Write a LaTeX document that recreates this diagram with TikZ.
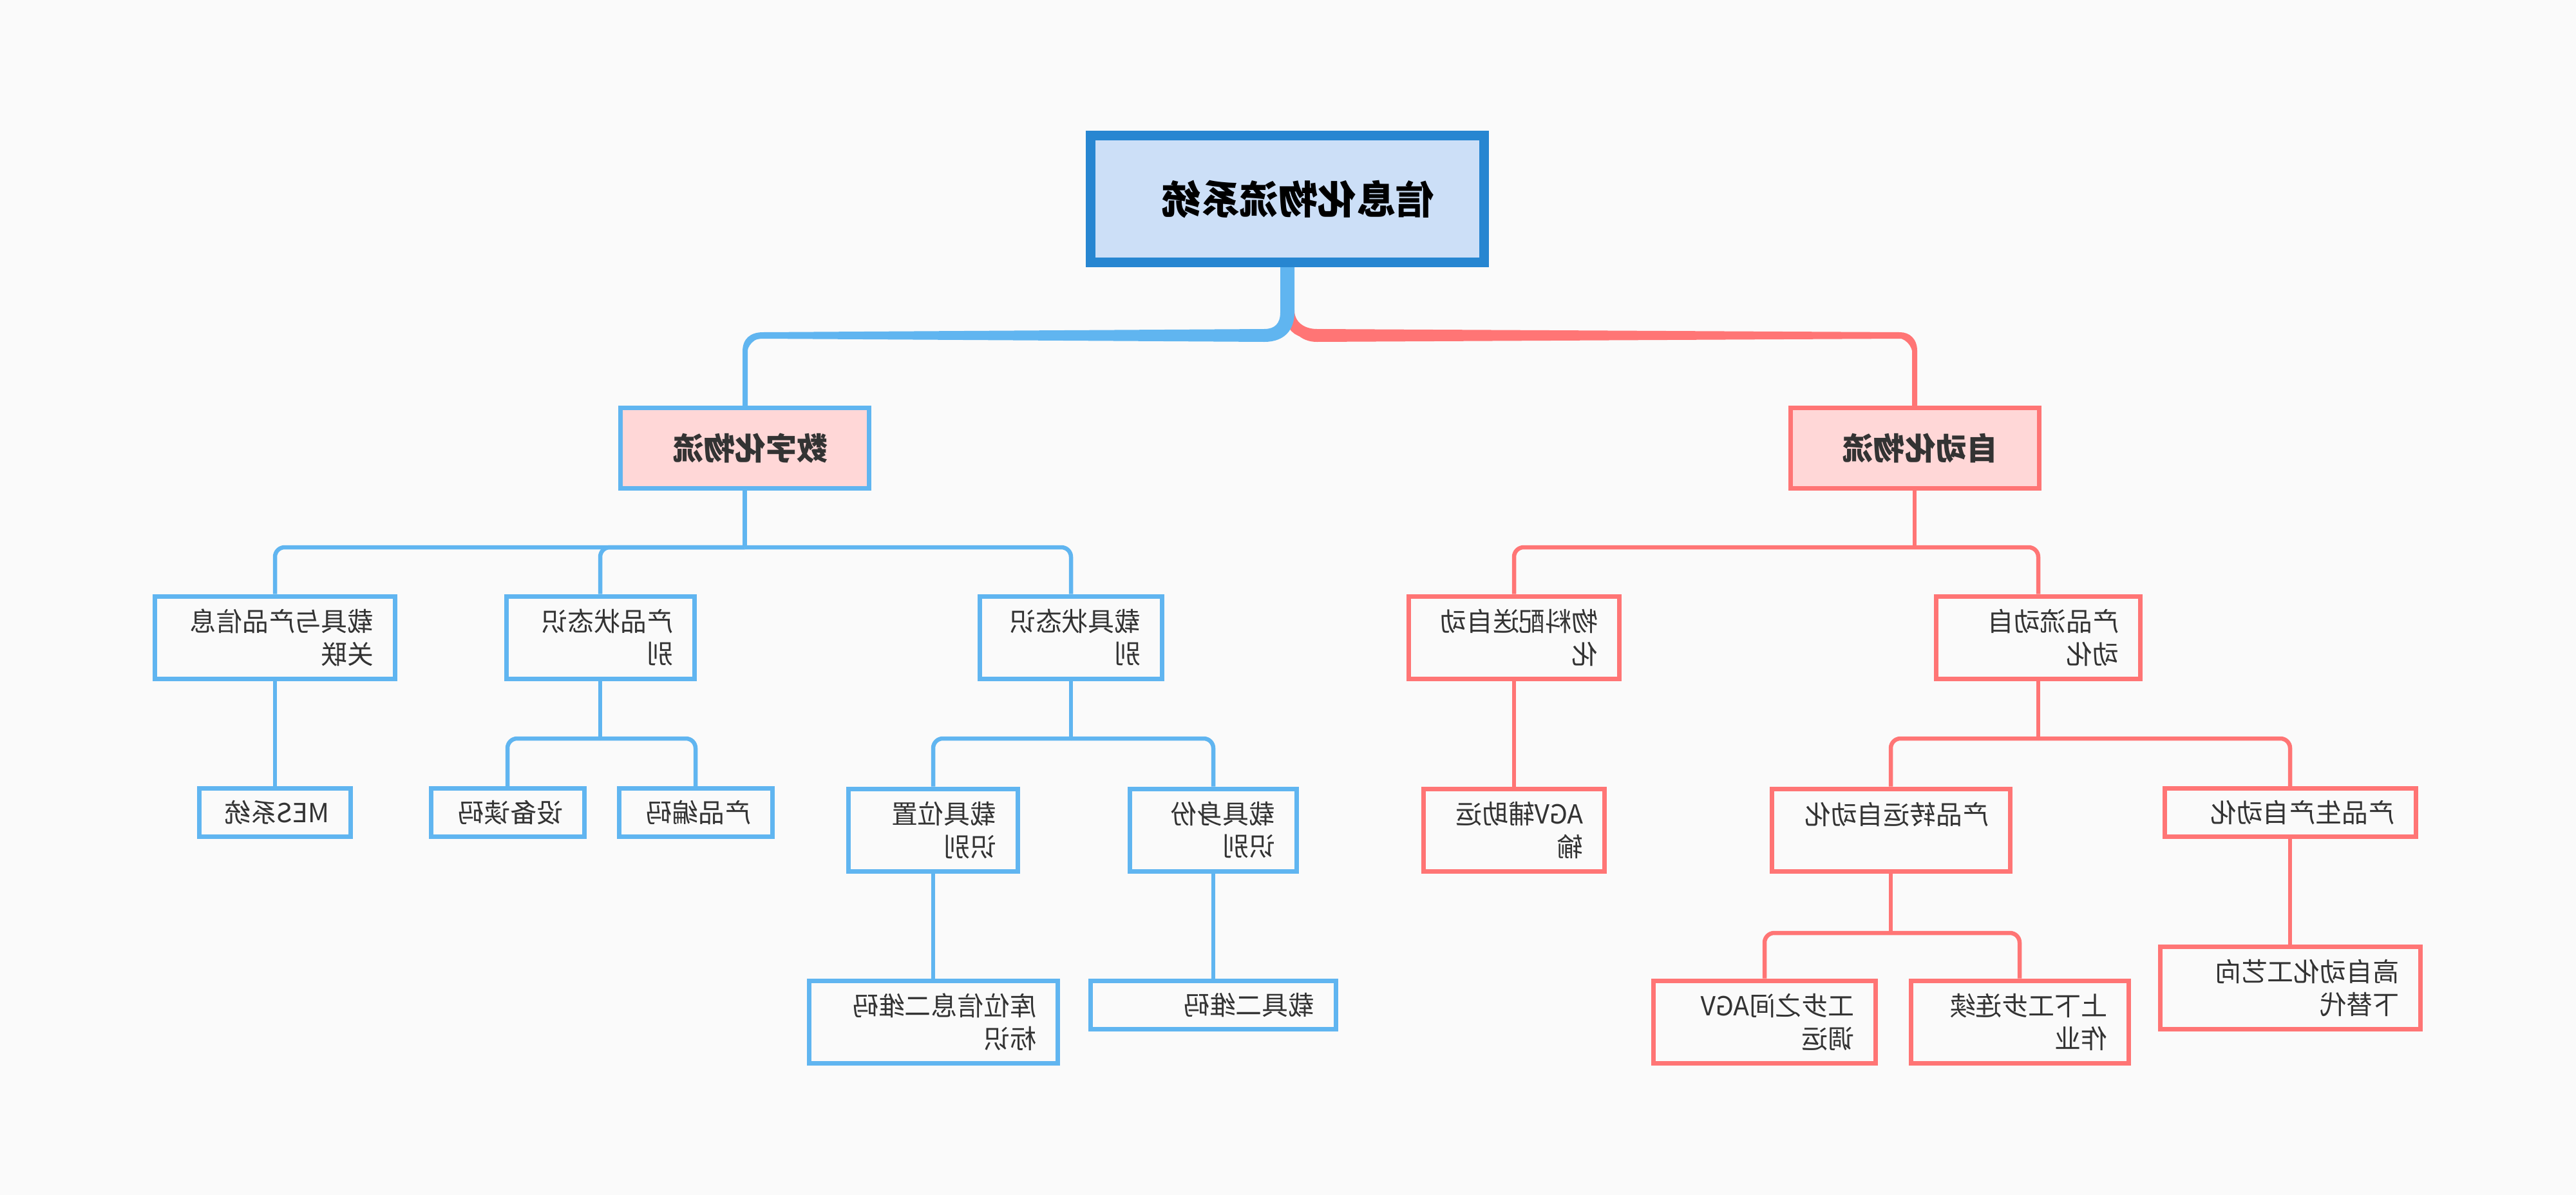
\documentclass[tikz,border=0pt]{standalone}
\usepackage{fontspec}
\setmainfont{Noto Sans CJK SC}
\usepackage{graphicx}
\usepackage{xcolor}
\usepackage{tikz}

\definecolor{paper}{HTML}{FAFAFA}
\definecolor{ink}{HTML}{333333}
\definecolor{skyline}{HTML}{60B5F0}
\definecolor{coral}{HTML}{FF7575}
\definecolor{rootedge}{HTML}{2786D1}
\definecolor{rootfill}{HTML}{CCDFF7}
\definecolor{pinkfill}{HTML}{FFD7D7}

\newcommand{\flip}[1]{\scalebox{-1}[1]{#1}}

\begin{document}
\begin{tikzpicture}[
  every node/.style={text=ink},
  topic/.style={draw=rootedge, fill=rootfill, line width=0.15cm, minimum width=6.11cm,
    minimum height=1.97cm, text=black, font=\fontsize{17.2}{20}\selectfont\bfseries},
  branch/.style={fill=pinkfill, line width=0.07cm, minimum width=3.86cm, minimum height=1.25cm,
    font=\fontsize{13.7}{16}\selectfont\bfseries},
  leaf/.style={fill=paper, line width=0.07cm, inner xsep=0.33cm, inner ysep=0pt, align=right,
    text width=#1, font=\fontsize{11.6}{14.5}\selectfont},
  tall/.style={minimum height=1.28cm},
  short/.style={minimum height=0.75cm},
  bl/.style={draw=skyline}, rd/.style={draw=coral},
  link/.style={line width=0.065cm, rounded corners=0.15cm},
]
  \useasboundingbox (0,0) rectangle (40,-18.56);
  \fill[paper] (0,0) rectangle (40,-18.56);

  \node[topic] (root) at (19.99,-3.09) {\hspace*{0.34cm}\flip{信息化物流系统}};

  \node[branch,bl] (digital) at (11.565,-6.96) {\hspace*{0.18cm}\flip{数字化物流}};
  \node[branch,rd] (auto)    at (29.73,-6.96)  {\hspace*{0.18cm}\flip{自动化物流}};

  % digital side
  \node[leaf=3.07cm,tall,bl] (link)   at (4.27,-9.90)  {\flip{载具与产品信息}\\\flip{关联}};
  \node[leaf=2.26cm,tall,bl] (pstate) at (9.32,-9.90)  {\flip{产品状态识}\\\flip{别}};
  \node[leaf=2.17cm,tall,bl] (cstate) at (16.63,-9.90) {\flip{载具状态识}\\\flip{别}};
  \node[leaf=1.69cm,short,bl] (mes)    at (4.27,-12.62)  {\flip{MES系统}};
  \node[leaf=1.72cm,short,bl] (reader) at (7.88,-12.62)  {\flip{设备读码}};
  \node[leaf=1.72cm,short,bl] (pcode)  at (10.80,-12.62) {\flip{产品编码}};
  \node[leaf=1.97cm,tall,bl]  (cpos)   at (14.49,-12.89) {\flip{载具位置}\\\flip{识别}};
  \node[leaf=1.93cm,tall,bl]  (cid)    at (18.84,-12.89) {\flip{载具身份}\\\flip{识别}};
  \node[leaf=3.20cm,tall,bl]  (slot)   at (14.49,-15.87) {\flip{库位信息二维码}\\\flip{标识}};
  \node[leaf=3.15cm,short,bl] (cqr)    at (18.84,-15.61) {\flip{载具二维码}};

  % automated side
  \node[leaf=2.61cm,tall,rd]  (feed)   at (23.51,-9.90)  {\flip{物料配送自动}\\\flip{化}};
  \node[leaf=2.51cm,tall,rd]  (flow)   at (31.65,-9.90)  {\flip{产品流动自}\\\flip{动化}};
  \node[leaf=2.15cm,tall,rd]  (agv)    at (23.51,-12.89) {\flip{AGV辅助运}\\\flip{输}};
  \node[leaf=3.04cm,tall,rd]  (move)   at (29.36,-12.89) {\flip{产品转运自动化}\\\mbox{}};
  \node[leaf=3.24cm,short,rd] (make)   at (35.56,-12.62) {\flip{产品生产自动化}};
  \node[leaf=2.79cm,tall,rd]  (shuttle) at (27.40,-15.87) {\flip{工步之间AGV}\\\flip{调运}};
  \node[leaf=2.72cm,tall,rd]  (chain)  at (31.36,-15.87) {\flip{上下工步连续}\\\flip{作业}};
  \node[leaf=3.38cm,tall,rd]  (swap)   at (35.56,-15.345) {\flip{高自动化工艺向}\\\flip{下替代}};

  % main trunk
  \coordinate (hub) at (19.99,-5.21);
  \draw[link,rd,rounded corners=0.3cm] (root.south) -- (hub) -| (auto.north);
  \draw[link,bl,rounded corners=0.3cm] (root.south) -- (hub) -| (digital.north);
  \fill[coral] (20.00,-4.82) .. controls (20.02,-5.15) and (20.20,-5.31) .. (20.45,-5.31)
    -- (29.50,-5.26) .. controls (29.63,-5.26) and (29.69,-5.32) .. (29.69,-5.45)
    -- (29.69,-6.30) -- (29.77,-6.30) -- (29.77,-5.45)
    .. controls (29.77,-5.26) and (29.65,-5.16) .. (29.50,-5.16)
    -- (20.45,-5.11) .. controls (20.25,-5.11) and (20.10,-5.00) .. (20.10,-4.82) -- cycle;
  \fill[skyline] (19.88,-4.15) -- (19.88,-4.85) .. controls (19.88,-5.02) and (19.80,-5.11) .. (19.63,-5.11)
    -- (11.85,-5.16) .. controls (11.65,-5.16) and (11.53,-5.26) .. (11.53,-5.46)
    -- (11.53,-6.30) -- (11.61,-6.30) -- (11.61,-5.46)
    .. controls (11.61,-5.32) and (11.70,-5.26) .. (11.85,-5.26)
    -- (19.63,-5.31) .. controls (19.95,-5.31) and (20.10,-5.12) .. (20.10,-4.85)
    -- (20.10,-4.15) -- cycle;

  % digital links
  \coordinate (jd)  at (11.565,-8.50);
  \coordinate (jps) at (9.32,-11.47);
  \coordinate (jcs) at (16.63,-11.47);
  \draw[link,bl] (digital.south) -- (jd);
  \draw[link,bl] (jd) -| (link.north);
  \draw[link,bl] (jd) -| (pstate.north);
  \draw[link,bl] (jd) -| (cstate.north);
  \draw[link,bl] (link.south) -- (mes.north);
  \draw[link,bl] (pstate.south) -- (jps);
  \draw[link,bl] (jps) -| (reader.north);
  \draw[link,bl] (jps) -| (pcode.north);
  \draw[link,bl] (cstate.south) -- (jcs);
  \draw[link,bl] (jcs) -| (cpos.north);
  \draw[link,bl] (jcs) -| (cid.north);
  \draw[link,bl] (cpos.south) -- (slot.north);
  \draw[link,bl] (cid.south) -- (cqr.north);

  % automated links
  \coordinate (ja)  at (29.73,-8.50);
  \coordinate (jfl) at (31.65,-11.47);
  \coordinate (jmv) at (29.36,-14.49);
  \draw[link,rd] (auto.south) -- (ja);
  \draw[link,rd] (ja) -| (feed.north);
  \draw[link,rd] (ja) -| (flow.north);
  \draw[link,rd] (feed.south) -- (agv.north);
  \draw[link,rd] (flow.south) -- (jfl);
  \draw[link,rd] (jfl) -| (move.north);
  \draw[link,rd] (jfl) -| (make.north);
  \draw[link,rd] (move.south) -- (jmv);
  \draw[link,rd] (jmv) -| (shuttle.north);
  \draw[link,rd] (jmv) -| (chain.north);
  \draw[link,rd] (make.south) -- (swap.north);
\end{tikzpicture}
\end{document}
